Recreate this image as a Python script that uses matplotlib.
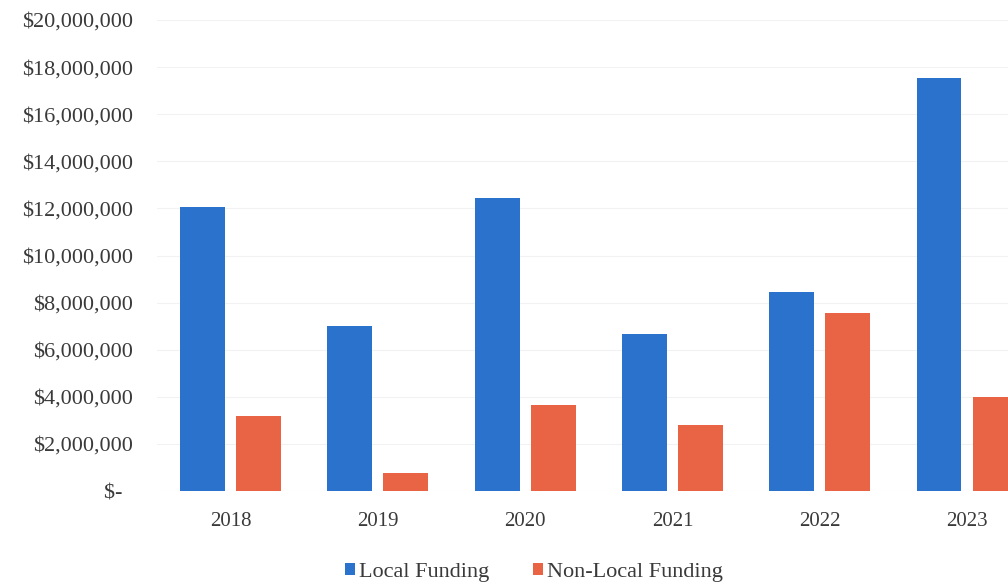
import matplotlib
matplotlib.use("Agg")
import matplotlib.pyplot as plt
import numpy as np
from matplotlib.ticker import FuncFormatter

# values (dollars)
years = ["2018", "2019", "2020", "2021", "2022", "2023"]
local_funding = [12_060_000, 7_000_000, 12_440_000, 6_670_000, 8_450_000, 17_550_000]
non_local_funding = [3_180_000, 760_000, 3_650_000, 2_800_000, 7_560_000, 4_000_000]

BLUE, ORANGE, INK = "#2a72cc", "#e96445", "#3a3a3a"
plt.rcParams["font.family"] = ["Liberation Serif", "DejaVu Serif"]

W, H = 1008, 585
fig = plt.figure(figsize=(W / 100, H / 100), dpi=100)
# plot area runs off the right edge of the scan, the last bar is cut
left, right, bottom, top = 157, 1008, 491, 20
ax = fig.add_axes([left / W, 1 - bottom / H, (right - left) / W, (bottom - top) / H])

x = np.arange(len(years))
bw, off = 0.305, 0.19
ax.bar(x - off, local_funding, bw, color=BLUE, label="Local Funding", zorder=2)
ax.bar(x + off, non_local_funding, bw, color=ORANGE, label="Non-Local Funding", zorder=2)

ax.set_xlim(-0.5, (right - 230.5) / 147.3)
ax.set_ylim(0, 20_000_000)
ax.set_yticks(np.arange(0, 20_000_001, 2_000_000))
ax.yaxis.set_major_formatter(FuncFormatter(
    lambda v, _: "$-  " if v == 0 else f"${v:,.0f}"))
ax.set_xticks(x)
ax.set_xticklabels(years)
ax.tick_params(length=0, colors=INK)
ax.tick_params(axis="y", pad=17, labelsize=16)
ax.tick_params(axis="x", pad=15, labelsize=15)
ax.grid(axis="y", color="#f2f2f2", lw=0.8, zorder=0)
for s in ax.spines.values():
    s.set_visible(False)

fig.legend(loc="center", bbox_to_anchor=(534 / W, 1 - 572 / H), ncol=2,
           frameon=False, fontsize=16, handlelength=0.45, handleheight=0.45,
           handletextpad=0.15, columnspacing=2.0, labelcolor=INK)

fig.savefig("out.png", dpi=100, facecolor="white")
